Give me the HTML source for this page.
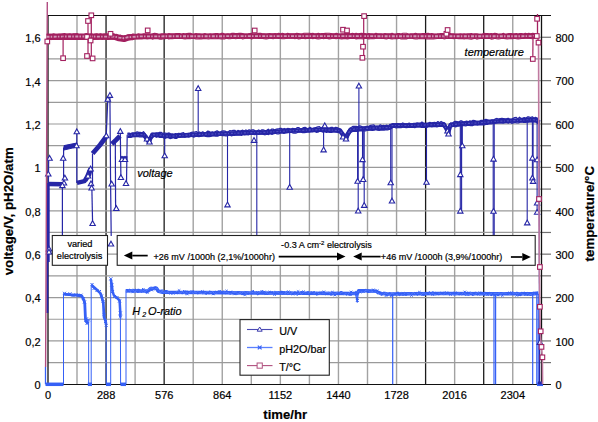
<!DOCTYPE html>
<html><head><meta charset="utf-8"><style>
html,body{margin:0;padding:0;background:#fff;width:598px;height:422px;overflow:hidden}
svg{display:block}
text{font-family:"Liberation Sans",sans-serif;fill:#000;stroke:#000;stroke-width:0.2px}
</style></head><body>
<svg width="598" height="422" viewBox="0 0 598 422">
<rect width="598" height="422" fill="#fff"/>
<g>
<line x1="77.00" y1="15.6" x2="77.00" y2="384.3" stroke="#a2a2a2" stroke-width="1.4"/>
<line x1="106.05" y1="15.6" x2="106.05" y2="384.3" stroke="#1c1c1c" stroke-width="1.3"/>
<line x1="135.10" y1="15.6" x2="135.10" y2="384.3" stroke="#a2a2a2" stroke-width="1.4"/>
<line x1="164.15" y1="15.6" x2="164.15" y2="384.3" stroke="#1c1c1c" stroke-width="1.3"/>
<line x1="193.20" y1="15.6" x2="193.20" y2="384.3" stroke="#a2a2a2" stroke-width="1.4"/>
<line x1="222.25" y1="15.6" x2="222.25" y2="384.3" stroke="#a2a2a2" stroke-width="1.4"/>
<line x1="251.30" y1="15.6" x2="251.30" y2="384.3" stroke="#a2a2a2" stroke-width="1.4"/>
<line x1="280.35" y1="15.6" x2="280.35" y2="384.3" stroke="#a2a2a2" stroke-width="1.4"/>
<line x1="309.40" y1="15.6" x2="309.40" y2="384.3" stroke="#a2a2a2" stroke-width="1.4"/>
<line x1="338.45" y1="15.6" x2="338.45" y2="384.3" stroke="#a2a2a2" stroke-width="1.4"/>
<line x1="367.50" y1="15.6" x2="367.50" y2="384.3" stroke="#a2a2a2" stroke-width="1.4"/>
<line x1="396.55" y1="15.6" x2="396.55" y2="384.3" stroke="#a2a2a2" stroke-width="1.4"/>
<line x1="425.60" y1="15.6" x2="425.60" y2="384.3" stroke="#1c1c1c" stroke-width="1.3"/>
<line x1="454.65" y1="15.6" x2="454.65" y2="384.3" stroke="#a2a2a2" stroke-width="1.4"/>
<line x1="483.70" y1="15.6" x2="483.70" y2="384.3" stroke="#1c1c1c" stroke-width="1.3"/>
<line x1="512.75" y1="15.6" x2="512.75" y2="384.3" stroke="#a2a2a2" stroke-width="1.4"/>
<line x1="48.0" y1="362.61" x2="541.0" y2="362.61" stroke="#9a9a9a" stroke-width="1.2"/>
<line x1="48.0" y1="340.92" x2="541.0" y2="340.92" stroke="#9a9a9a" stroke-width="1.2"/>
<line x1="48.0" y1="319.23" x2="541.0" y2="319.23" stroke="#9a9a9a" stroke-width="1.2"/>
<line x1="48.0" y1="297.54" x2="541.0" y2="297.54" stroke="#9a9a9a" stroke-width="1.2"/>
<line x1="48.0" y1="275.85" x2="541.0" y2="275.85" stroke="#9a9a9a" stroke-width="1.2"/>
<line x1="48.0" y1="254.16" x2="541.0" y2="254.16" stroke="#9a9a9a" stroke-width="1.2"/>
<line x1="48.0" y1="232.47" x2="541.0" y2="232.47" stroke="#9a9a9a" stroke-width="1.2"/>
<line x1="48.0" y1="210.78" x2="541.0" y2="210.78" stroke="#9a9a9a" stroke-width="1.2"/>
<line x1="48.0" y1="189.09" x2="541.0" y2="189.09" stroke="#9a9a9a" stroke-width="1.2"/>
<line x1="48.0" y1="167.40" x2="541.0" y2="167.40" stroke="#9a9a9a" stroke-width="1.2"/>
<line x1="48.0" y1="145.71" x2="541.0" y2="145.71" stroke="#9a9a9a" stroke-width="1.2"/>
<line x1="48.0" y1="124.02" x2="541.0" y2="124.02" stroke="#9a9a9a" stroke-width="1.2"/>
<line x1="48.0" y1="102.33" x2="541.0" y2="102.33" stroke="#9a9a9a" stroke-width="1.2"/>
<line x1="48.0" y1="80.64" x2="541.0" y2="80.64" stroke="#9a9a9a" stroke-width="1.2"/>
<line x1="48.0" y1="58.95" x2="541.0" y2="58.95" stroke="#9a9a9a" stroke-width="1.2"/>
<line x1="48.0" y1="37.26" x2="541.0" y2="37.26" stroke="#9a9a9a" stroke-width="1.2"/>
<line x1="541" y1="362.61" x2="551" y2="362.61" stroke="#707070" stroke-width="1.2"/>
<line x1="541" y1="340.92" x2="551" y2="340.92" stroke="#707070" stroke-width="1.2"/>
<line x1="541" y1="319.23" x2="551" y2="319.23" stroke="#707070" stroke-width="1.2"/>
<line x1="541" y1="297.54" x2="551" y2="297.54" stroke="#707070" stroke-width="1.2"/>
<line x1="541" y1="275.85" x2="551" y2="275.85" stroke="#707070" stroke-width="1.2"/>
<line x1="541" y1="254.16" x2="551" y2="254.16" stroke="#707070" stroke-width="1.2"/>
<line x1="541" y1="232.47" x2="551" y2="232.47" stroke="#707070" stroke-width="1.2"/>
<line x1="541" y1="210.78" x2="551" y2="210.78" stroke="#707070" stroke-width="1.2"/>
<line x1="541" y1="189.09" x2="551" y2="189.09" stroke="#707070" stroke-width="1.2"/>
<line x1="541" y1="167.40" x2="551" y2="167.40" stroke="#707070" stroke-width="1.2"/>
<line x1="541" y1="145.71" x2="551" y2="145.71" stroke="#707070" stroke-width="1.2"/>
<line x1="541" y1="124.02" x2="551" y2="124.02" stroke="#707070" stroke-width="1.2"/>
<line x1="541" y1="102.33" x2="551" y2="102.33" stroke="#707070" stroke-width="1.2"/>
<line x1="541" y1="80.64" x2="551" y2="80.64" stroke="#707070" stroke-width="1.2"/>
<line x1="541" y1="58.95" x2="551" y2="58.95" stroke="#707070" stroke-width="1.2"/>
<line x1="541" y1="37.26" x2="551" y2="37.26" stroke="#707070" stroke-width="1.2"/>
<path d="M48,15.5H551M48,384.5H551" stroke="#111" stroke-width="1.1"/>
<path d="M48,15V385M541.5,15V385" stroke="#111" stroke-width="1.3"/>
</g>
<g>
<polyline points="45.5,367.0 45.5,384.3" fill="none" stroke="#3560f6" stroke-width="1.3" stroke-linejoin="round" />
<polyline points="45.5,384.3 63.5,384.3" fill="none" stroke="#3560f6" stroke-width="3.5" stroke-linejoin="round" />
<polyline points="63.5,384.3 63.5,293.4" fill="none" stroke="#3560f6" stroke-width="1.0" stroke-linejoin="round" />
<polyline points="63.5,294.2 72.0,294.8 80.6,295.5 82.0,296.3 84.1,300.5 84.8,304.0 85.5,319.7 87.0,322.6 88.6,321.5" fill="none" stroke="#3560f6" stroke-width="2.8" stroke-linejoin="round" />
<polyline points="88.6,321.5 88.7,384.3" fill="none" stroke="#3560f6" stroke-width="1.0" stroke-linejoin="round" />
<path d="M63.0,291.8L66.0,294.8M66.0,291.8L63.0,294.8" stroke="#3560f6" stroke-width="1"/>
<path d="M65.5,293.0L68.5,296.0M68.5,293.0L65.5,296.0" stroke="#3560f6" stroke-width="1"/>
<path d="M68.5,292.3L71.5,295.3M71.5,292.3L68.5,295.3" stroke="#3560f6" stroke-width="1"/>
<path d="M71.5,294.1L74.5,297.1M74.5,294.1L71.5,297.1" stroke="#3560f6" stroke-width="1"/>
<path d="M74.5,293.2L77.5,296.2M77.5,293.2L74.5,296.2" stroke="#3560f6" stroke-width="1"/>
<path d="M77.0,294.5L80.0,297.5M80.0,294.5L77.0,297.5" stroke="#3560f6" stroke-width="1"/>
<path d="M79.5,293.7L82.5,296.7M82.5,293.7L79.5,296.7" stroke="#3560f6" stroke-width="1"/>
<path d="M81.8,297.0L84.8,300.0M84.8,297.0L81.8,300.0" stroke="#3560f6" stroke-width="1"/>
<path d="M83.0,300.5L86.0,303.5M86.0,300.5L83.0,303.5" stroke="#3560f6" stroke-width="1"/>
<path d="M84.3,319.0L87.3,322.0M87.3,319.0L84.3,322.0" stroke="#3560f6" stroke-width="1"/>
<path d="M85.5,322.0L88.5,325.0M88.5,322.0L85.5,325.0" stroke="#3560f6" stroke-width="1"/>
<path d="M87.0,318.5L90.0,321.5M90.0,318.5L87.0,321.5" stroke="#3560f6" stroke-width="1"/>
<path d="M85.0,317.3L88.0,320.3M88.0,317.3L85.0,320.3" stroke="#3560f6" stroke-width="1"/>
<polyline points="87.8,384.3 92.0,384.3" fill="none" stroke="#3560f6" stroke-width="3.5" stroke-linejoin="round" />
<polyline points="91.2,384.3 91.2,285.6" fill="none" stroke="#3560f6" stroke-width="1.0" stroke-linejoin="round" />
<polyline points="91.2,285.6 92.0,285.6 96.0,289.0 100.5,293.4 101.9,297.7 103.3,302.7 104.0,316.9 105.4,320.4 106.1,324.0" fill="none" stroke="#3560f6" stroke-width="2.7" stroke-linejoin="round" />
<polyline points="106.1,324.0 106.3,384.3" fill="none" stroke="#3560f6" stroke-width="1.0" stroke-linejoin="round" />
<path d="M90.5,283.0L93.5,286.0M93.5,283.0L90.5,286.0" stroke="#3560f6" stroke-width="1"/>
<path d="M92.5,287.0L95.5,290.0M95.5,287.0L92.5,290.0" stroke="#3560f6" stroke-width="1"/>
<path d="M95.5,289.0L98.5,292.0M98.5,289.0L95.5,292.0" stroke="#3560f6" stroke-width="1"/>
<path d="M98.0,290.0L101.0,293.0M101.0,290.0L98.0,293.0" stroke="#3560f6" stroke-width="1"/>
<path d="M100.0,294.5L103.0,297.5M103.0,294.5L100.0,297.5" stroke="#3560f6" stroke-width="1"/>
<path d="M101.5,300.0L104.5,303.0M104.5,300.0L101.5,303.0" stroke="#3560f6" stroke-width="1"/>
<path d="M102.7,313.0L105.7,316.0M105.7,313.0L102.7,316.0" stroke="#3560f6" stroke-width="1"/>
<path d="M104.0,320.0L107.0,323.0M107.0,320.0L104.0,323.0" stroke="#3560f6" stroke-width="1"/>
<path d="M104.7,324.0L107.7,327.0M107.7,324.0L104.7,327.0" stroke="#3560f6" stroke-width="1"/>
<polyline points="106.0,384.3 111.0,384.3" fill="none" stroke="#3560f6" stroke-width="3.5" stroke-linejoin="round" />
<polyline points="110.7,384.3 110.7,279.2" fill="none" stroke="#3560f6" stroke-width="1.0" stroke-linejoin="round" />
<polyline points="110.7,279.2 111.8,284.2 112.5,291.3 114.0,295.6 117.5,298.4 119.6,300.5 120.3,312.6 120.3,316.9" fill="none" stroke="#3560f6" stroke-width="2.5" stroke-linejoin="round" />
<polyline points="120.4,316.9 120.6,384.3" fill="none" stroke="#3560f6" stroke-width="1.0" stroke-linejoin="round" />
<path d="M109.4,277.3L112.4,280.3M112.4,277.3L109.4,280.3" stroke="#3560f6" stroke-width="1"/>
<path d="M110.3,283.5L113.3,286.5M113.3,283.5L110.3,286.5" stroke="#3560f6" stroke-width="1"/>
<path d="M111.1,290.0L114.1,293.0M114.1,290.0L111.1,293.0" stroke="#3560f6" stroke-width="1"/>
<path d="M113.0,295.0L116.0,298.0M116.0,295.0L113.0,298.0" stroke="#3560f6" stroke-width="1"/>
<path d="M115.5,296.0L118.5,299.0M118.5,296.0L115.5,299.0" stroke="#3560f6" stroke-width="1"/>
<path d="M118.0,299.5L121.0,302.5M121.0,299.5L118.0,302.5" stroke="#3560f6" stroke-width="1"/>
<path d="M118.8,311.5L121.8,314.5M121.8,311.5L118.8,314.5" stroke="#3560f6" stroke-width="1"/>
<path d="M118.9,315.5L121.9,318.5M121.9,315.5L118.9,318.5" stroke="#3560f6" stroke-width="1"/>
<polyline points="120.5,384.3 126.0,384.3" fill="none" stroke="#3560f6" stroke-width="3.5" stroke-linejoin="round" />
<polyline points="126.0,384.3 126.0,290.6" fill="none" stroke="#3560f6" stroke-width="1.0" stroke-linejoin="round" />
<polyline points="125.8,290.8 140.0,291.0 148.0,291.0 150.0,288.8 156.5,288.3 158.5,291.3 162.0,292.2 200.0,292.5 250.0,293.0 300.0,293.2 355.0,293.5 357.0,294.0 358.6,290.8 366.0,290.8 376.0,291.3 381.0,293.6 392.0,294.0 440.0,293.5 494.0,293.8 532.0,293.8 538.4,293.0" fill="none" stroke="#3560f6" stroke-width="3.4" stroke-linejoin="round" />
<polyline points="125.8,290.1 127.0,289.5 128.2,291.4 129.4,289.2 130.6,291.0 131.8,290.4 133.0,289.2 134.2,290.9 135.4,289.2 136.6,290.7 137.8,289.3 139.0,289.4 140.2,290.7 141.4,292.2 142.6,289.6 143.8,289.9 145.0,291.5 146.2,292.7 147.4,291.3 148.6,289.9 149.8,290.8 151.0,287.0 152.2,290.0 153.4,287.7 154.6,287.1 155.8,286.9 157.0,288.3 158.2,292.1 159.4,290.3 160.6,292.2 161.8,292.7 163.0,291.7 164.2,292.4 165.4,290.6 166.6,290.6 167.8,291.1 169.0,292.9 170.2,292.0 171.4,291.6 172.6,292.6 173.8,292.1 175.0,291.5 176.2,293.4 177.4,293.1 178.6,291.4 179.8,292.6 181.0,292.4 182.2,293.8 183.4,293.2 184.6,291.6 185.8,294.2 187.0,290.9 188.2,292.1 189.4,293.4 190.6,291.1 191.8,292.4 193.0,290.7 194.2,293.1 195.4,293.5 196.6,292.8 197.8,293.9 199.0,291.8 200.2,293.2 201.4,292.9 202.6,292.8 203.8,292.4 205.0,293.8 206.2,294.3 207.4,292.5 208.6,293.2 209.8,290.9 211.0,293.4 212.2,293.2 213.4,294.5 214.6,293.9 215.8,291.8 217.0,292.2 218.2,293.3 219.4,290.9 220.6,292.6 221.8,291.5 223.0,291.3 224.2,291.1 225.4,293.8 226.6,291.4 227.8,291.8 229.0,292.4 230.2,294.2 231.4,291.2 232.6,292.6 233.8,293.0 235.0,294.3 236.2,294.1 237.4,294.3 238.6,292.0 239.8,292.6 241.0,292.4 242.2,294.4 243.4,294.7 244.6,291.6 245.8,291.7 247.0,292.0 248.2,292.0 249.4,292.9 250.6,293.3 251.8,292.1 253.0,291.1 254.2,292.7 255.4,292.5 256.6,293.3 257.8,294.8 259.0,293.8 260.2,293.1 261.4,293.5 262.6,293.7 263.8,291.4 265.0,294.6 266.2,294.1 267.4,294.5 268.6,294.2 269.8,292.7 271.0,292.7 272.2,291.6 273.4,293.6 274.6,291.4 275.8,291.5 277.0,292.0 278.2,291.8 279.4,292.5 280.6,291.4 281.8,291.2 283.0,291.8 284.2,291.6 285.4,292.6 286.6,291.3 287.8,294.6 289.0,293.6 290.2,291.8 291.4,292.2 292.6,292.6 293.8,292.7 295.0,291.7 296.2,294.5 297.4,295.1 298.6,293.1 299.8,293.1 301.0,291.6 302.2,291.7 303.4,292.6 304.6,292.3 305.8,294.5 307.0,292.0 308.2,291.4 309.4,295.0 310.6,293.4 311.8,291.9 313.0,293.4 314.2,291.5 315.4,293.4 316.6,295.1 317.8,294.7 319.0,294.0 320.2,292.4 321.4,292.8 322.6,292.1 323.8,294.4 325.0,293.5 326.2,294.4 327.4,292.7 328.6,292.3 329.8,294.5 331.0,295.2 332.2,294.7 333.4,294.5 334.6,294.6 335.8,294.3 337.0,292.4 338.2,293.5 339.4,292.9 340.6,291.6 341.8,291.6 343.0,292.6 344.2,292.5 345.4,294.2 346.6,295.2 347.8,293.3 349.0,295.1 350.2,295.3 351.4,295.2 352.6,293.0 353.8,292.4 355.0,292.5 356.2,292.6 357.4,292.1 358.6,291.3 359.8,292.3 361.0,292.1 362.2,290.7 363.4,291.4 364.6,291.9 365.8,289.2 367.0,291.5 368.2,292.5 369.4,292.0 370.6,292.0 371.8,291.0 373.0,289.9 374.2,292.3 375.4,290.6 376.6,292.7 377.8,293.9 379.0,292.3 380.2,292.9 381.4,295.3 382.6,294.5 383.8,292.4 385.0,292.3 386.2,292.5 387.4,295.4 388.6,295.0 389.8,292.6 391.0,295.2 392.2,295.8 393.4,294.6 394.6,293.4 395.8,294.1 397.0,292.5 398.2,292.1 399.4,295.7 400.6,294.5 401.8,294.0 403.0,295.5 404.2,293.6 405.4,295.3 406.6,295.1 407.8,292.7 409.0,292.9 410.2,293.0 411.4,292.8 412.6,294.1 413.8,292.9 415.0,293.5 416.2,292.3 417.4,295.3 418.6,293.2 419.8,293.6 421.0,294.0 422.2,295.2 423.4,293.4 424.6,295.2 425.8,293.7 427.0,293.8 428.2,293.7 429.4,291.8 430.6,293.4 431.8,292.4 433.0,291.7 434.2,294.7 435.4,292.3 436.6,293.4 437.8,294.4 439.0,293.7 440.2,292.8 441.4,293.6 442.6,293.7 443.8,294.6 445.0,292.0 446.2,293.8 447.4,292.6 448.6,292.7 449.8,294.6 451.0,293.6 452.2,293.8 453.4,294.6 454.6,295.1 455.8,293.4 457.0,294.0 458.2,293.6 459.4,293.7 460.6,294.3 461.8,293.4 463.0,293.8 464.2,293.6 465.4,295.3 466.6,294.4 467.8,295.1 469.0,295.3 470.2,292.8 471.4,293.9 472.6,295.4 473.8,295.0 475.0,292.3 476.2,292.3 477.4,293.5 478.6,292.1 479.8,292.7 481.0,292.1 482.2,294.4 483.4,294.8 484.6,295.3 485.8,292.4 487.0,294.6 488.2,294.4 489.4,292.4 490.6,295.2 491.8,295.6 493.0,292.7 494.2,295.5 495.4,293.4 496.6,293.8 497.8,295.7 499.0,295.1 500.2,292.5 501.4,293.5 502.6,293.9 503.8,293.2 505.0,292.6 506.2,293.1 507.4,294.6 508.6,292.0 509.8,294.0 511.0,293.6 512.2,292.0 513.4,293.2 514.6,294.3 515.8,293.8 517.0,292.1 518.2,295.6 519.4,294.9 520.6,295.6 521.8,292.3 523.0,292.9 524.2,292.1 525.4,294.9 526.6,292.9 527.8,292.4 529.0,293.5 530.2,295.4 531.4,295.0 532.6,292.8 533.8,292.2 535.0,295.0 536.2,293.5 537.4,293.9" fill="none" stroke="#3560f6" stroke-width="1.1" stroke-linejoin="round" />
<polyline points="125.8,290.0 127.3,292.2 128.8,289.7 130.3,291.5 131.8,289.6 133.3,290.1 134.8,292.4 136.3,290.1 137.8,291.4 139.3,290.9 140.8,290.9 142.3,291.0 143.8,290.1 145.3,292.0 146.8,289.8 148.3,289.9 149.8,287.6 151.3,288.0 152.8,288.3 154.3,289.7 155.8,288.0 157.3,288.3 158.8,290.7 160.3,293.2 161.8,290.8 163.3,292.6 164.8,291.9 166.3,292.7 167.8,291.8 169.3,292.8 170.8,292.3 172.3,292.7 173.8,293.5 175.3,292.5 176.8,291.2 178.3,291.0 179.8,293.7 181.3,292.3 182.8,291.4 184.3,293.7 185.8,292.6 187.3,293.1 188.8,293.6 190.3,291.8 191.8,292.0 193.3,293.6 194.8,291.4 196.3,293.3 197.8,291.3 199.3,293.1 200.8,293.1 202.3,293.9 203.8,293.6 205.3,292.6 206.8,291.7 208.3,291.5 209.8,292.7 211.3,292.6 212.8,291.3 214.3,293.9 215.8,292.7 217.3,293.3 218.8,291.8 220.3,291.9 221.8,291.3 223.3,292.3 224.8,292.0 226.3,292.5 227.8,292.4 229.3,293.8 230.8,294.0 232.3,291.8 233.8,292.5 235.3,291.9 236.8,293.4 238.3,294.3 239.8,292.0 241.3,293.7 242.8,292.3 244.3,291.5 245.8,293.8 247.3,292.5 248.8,292.0 250.3,292.8 251.8,292.2 253.3,292.7 254.8,292.9 256.3,292.8 257.8,293.3 259.3,292.4 260.8,291.8 262.3,291.8 263.8,291.9 265.3,293.1 266.8,292.6 268.3,294.0 269.8,293.1 271.3,293.7 272.8,294.5 274.3,291.8 275.8,291.7 277.3,292.0 278.8,292.8 280.3,293.3 281.8,293.9 283.3,292.7 284.8,294.5 286.3,291.7 287.8,294.2 289.3,292.3 290.8,294.3 292.3,291.8 293.8,294.6 295.3,294.0 296.8,294.7 298.3,293.4 299.8,292.2 301.3,294.6 302.8,293.0 304.3,292.0 305.8,293.5 307.3,293.2 308.8,293.2 310.3,292.2 311.8,292.1 313.3,293.5 314.8,293.1 316.3,292.2 317.8,293.1 319.3,294.0 320.8,294.0 322.3,293.2 323.8,293.0 325.3,292.9 326.8,292.5 328.3,292.4 329.8,293.2 331.3,292.2 332.8,294.1 334.3,294.0 335.8,293.7 337.3,292.0 338.8,293.0 340.3,293.2 341.8,292.2 343.3,294.8 344.8,294.2 346.3,293.5 347.8,294.1 349.3,292.6 350.8,292.7 352.3,293.6 353.8,294.2 355.3,294.0 356.8,292.5 358.3,291.7 359.8,292.0 361.3,291.5 362.8,292.1 364.3,292.2 365.8,290.0 367.3,290.3 368.8,291.1 370.3,292.4 371.8,290.7 373.3,292.5 374.8,292.3 376.3,291.5 377.8,292.5 379.3,294.2 380.8,294.4 382.3,293.0 383.8,294.7 385.3,292.8 386.8,293.4 388.3,295.2 389.8,295.0 391.3,293.4 392.8,293.4 394.3,294.3 395.8,295.0 397.3,294.5 398.8,295.2 400.3,294.6 401.8,294.9 403.3,294.2 404.8,293.5 406.3,293.6 407.8,293.8 409.3,293.9 410.8,294.8 412.3,293.1 413.8,292.5 415.3,294.5 416.8,293.1 418.3,293.5 419.8,292.6 421.3,294.7 422.8,293.0 424.3,293.0 425.8,294.6 427.3,293.6 428.8,292.9 430.3,294.8 431.8,293.3 433.3,293.2 434.8,295.0 436.3,294.4 437.8,294.3 439.3,292.8 440.8,294.4 442.3,293.8 443.8,294.5 445.3,293.1 446.8,294.4 448.3,294.4 449.8,293.2 451.3,294.0 452.8,294.4 454.3,295.1 455.8,294.8 457.3,294.5 458.8,292.5 460.3,293.9 461.8,294.2 463.3,292.4 464.8,293.5 466.3,294.8 467.8,294.9 469.3,294.9 470.8,292.4 472.3,294.0 473.8,294.8 475.3,294.2 476.8,293.2 478.3,292.3 479.8,295.0 481.3,294.8 482.8,294.2 484.3,293.3 485.8,294.7 487.3,294.7 488.8,294.4 490.3,294.1 491.8,293.2 493.3,293.2 494.8,293.4 496.3,293.3 497.8,293.9 499.3,292.6 500.8,294.5 502.3,293.3 503.8,292.8 505.3,293.1 506.8,293.5 508.3,293.6 509.8,294.6 511.3,292.6 512.8,293.0 514.3,293.2 515.8,292.8 517.3,294.5 518.8,292.6 520.3,292.5 521.8,294.0 523.3,294.5 524.8,294.8 526.3,294.0 527.8,293.3 529.3,294.9 530.8,294.5 532.3,293.7 533.8,293.8 535.3,294.7 536.8,294.7 538.3,294.3" fill="none" stroke="#5a80ff" stroke-width="0.9" stroke-linejoin="round" />
<path d="M126.8,290.1L129.2,292.5M129.2,290.1L126.8,292.5" stroke="#3560f6" stroke-width="1"/>
<path d="M131.5,290.8L133.9,293.2M133.9,290.8L131.5,293.2" stroke="#3560f6" stroke-width="1"/>
<path d="M136.9,290.6L139.3,293.0M139.3,290.6L136.9,293.0" stroke="#3560f6" stroke-width="1"/>
<path d="M142.1,288.1L144.5,290.5M144.5,288.1L142.1,290.5" stroke="#3560f6" stroke-width="1"/>
<path d="M146.0,291.4L148.4,293.8M148.4,291.4L146.0,293.8" stroke="#3560f6" stroke-width="1"/>
<path d="M150.5,288.9L152.9,291.3M152.9,288.9L150.5,291.3" stroke="#3560f6" stroke-width="1"/>
<path d="M153.3,287.1L155.7,289.5M155.7,287.1L153.3,289.5" stroke="#3560f6" stroke-width="1"/>
<path d="M156.5,289.1L158.9,291.5M158.9,289.1L156.5,291.5" stroke="#3560f6" stroke-width="1"/>
<path d="M160.8,289.2L163.2,291.6M163.2,289.2L160.8,291.6" stroke="#3560f6" stroke-width="1"/>
<path d="M163.9,290.2L166.3,292.6M166.3,290.2L163.9,292.6" stroke="#3560f6" stroke-width="1"/>
<path d="M169.2,292.0L171.6,294.4M171.6,292.0L169.2,294.4" stroke="#3560f6" stroke-width="1"/>
<path d="M172.1,292.2L174.5,294.6M174.5,292.2L172.1,294.6" stroke="#3560f6" stroke-width="1"/>
<path d="M175.1,291.5L177.5,293.9M177.5,291.5L175.1,293.9" stroke="#3560f6" stroke-width="1"/>
<path d="M177.9,289.3L180.3,291.7M180.3,289.3L177.9,291.7" stroke="#3560f6" stroke-width="1"/>
<path d="M183.1,290.1L185.5,292.5M185.5,290.1L183.1,292.5" stroke="#3560f6" stroke-width="1"/>
<path d="M186.2,292.9L188.6,295.3M188.6,292.9L186.2,295.3" stroke="#3560f6" stroke-width="1"/>
<path d="M191.3,290.5L193.7,292.9M193.7,290.5L191.3,292.9" stroke="#3560f6" stroke-width="1"/>
<path d="M196.7,291.4L199.1,293.8M199.1,291.4L196.7,293.8" stroke="#3560f6" stroke-width="1"/>
<path d="M201.2,290.3L203.6,292.7M203.6,290.3L201.2,292.7" stroke="#3560f6" stroke-width="1"/>
<path d="M206.6,292.1L209.0,294.5M209.0,292.1L206.6,294.5" stroke="#3560f6" stroke-width="1"/>
<path d="M212.0,292.8L214.4,295.2M214.4,292.8L212.0,295.2" stroke="#3560f6" stroke-width="1"/>
<path d="M215.4,291.0L217.8,293.4M217.8,291.0L215.4,293.4" stroke="#3560f6" stroke-width="1"/>
<path d="M218.4,290.2L220.8,292.6M220.8,290.2L218.4,292.6" stroke="#3560f6" stroke-width="1"/>
<path d="M221.0,290.8L223.4,293.2M223.4,290.8L221.0,293.2" stroke="#3560f6" stroke-width="1"/>
<path d="M225.4,289.8L227.8,292.2M227.8,289.8L225.4,292.2" stroke="#3560f6" stroke-width="1"/>
<path d="M229.9,291.0L232.3,293.4M232.3,291.0L229.9,293.4" stroke="#3560f6" stroke-width="1"/>
<path d="M233.3,292.8L235.7,295.2M235.7,292.8L233.3,295.2" stroke="#3560f6" stroke-width="1"/>
<path d="M237.3,291.0L239.7,293.4M239.7,291.0L237.3,293.4" stroke="#3560f6" stroke-width="1"/>
<path d="M241.2,292.5L243.6,294.9M243.6,292.5L241.2,294.9" stroke="#3560f6" stroke-width="1"/>
<path d="M243.9,293.5L246.3,295.9M246.3,293.5L243.9,295.9" stroke="#3560f6" stroke-width="1"/>
<path d="M246.4,292.7L248.8,295.1M248.8,292.7L246.4,295.1" stroke="#3560f6" stroke-width="1"/>
<path d="M251.5,290.1L253.9,292.5M253.9,290.1L251.5,292.5" stroke="#3560f6" stroke-width="1"/>
<path d="M256.3,291.3L258.7,293.7M258.7,291.3L256.3,293.7" stroke="#3560f6" stroke-width="1"/>
<path d="M260.6,290.1L263.0,292.5M263.0,290.1L260.6,292.5" stroke="#3560f6" stroke-width="1"/>
<path d="M263.2,290.7L265.6,293.1M265.6,290.7L263.2,293.1" stroke="#3560f6" stroke-width="1"/>
<path d="M268.6,290.8L271.0,293.2M271.0,290.8L268.6,293.2" stroke="#3560f6" stroke-width="1"/>
<path d="M273.4,293.4L275.8,295.8M275.8,293.4L273.4,295.8" stroke="#3560f6" stroke-width="1"/>
<path d="M278.7,291.4L281.1,293.8M281.1,291.4L278.7,293.8" stroke="#3560f6" stroke-width="1"/>
<path d="M282.2,292.0L284.6,294.4M284.6,292.0L282.2,294.4" stroke="#3560f6" stroke-width="1"/>
<path d="M287.1,290.5L289.5,292.9M289.5,290.5L287.1,292.9" stroke="#3560f6" stroke-width="1"/>
<path d="M291.8,293.0L294.2,295.4M294.2,293.0L291.8,295.4" stroke="#3560f6" stroke-width="1"/>
<path d="M296.9,290.3L299.3,292.7M299.3,290.3L296.9,292.7" stroke="#3560f6" stroke-width="1"/>
<path d="M302.2,290.5L304.6,292.9M304.6,290.5L302.2,292.9" stroke="#3560f6" stroke-width="1"/>
<path d="M305.8,292.4L308.2,294.8M308.2,292.4L305.8,294.8" stroke="#3560f6" stroke-width="1"/>
<path d="M311.0,291.5L313.4,293.9M313.4,291.5L311.0,293.9" stroke="#3560f6" stroke-width="1"/>
<path d="M316.3,292.3L318.7,294.7M318.7,292.3L316.3,294.7" stroke="#3560f6" stroke-width="1"/>
<path d="M319.7,291.5L322.1,293.9M322.1,291.5L319.7,293.9" stroke="#3560f6" stroke-width="1"/>
<path d="M322.7,290.6L325.1,293.0M325.1,290.6L322.7,293.0" stroke="#3560f6" stroke-width="1"/>
<path d="M325.7,292.8L328.1,295.2M328.1,292.8L325.7,295.2" stroke="#3560f6" stroke-width="1"/>
<path d="M331.2,291.0L333.6,293.4M333.6,291.0L331.2,293.4" stroke="#3560f6" stroke-width="1"/>
<path d="M333.8,293.9L336.2,296.3M336.2,293.9L333.8,296.3" stroke="#3560f6" stroke-width="1"/>
<path d="M337.9,291.9L340.3,294.3M340.3,291.9L337.9,294.3" stroke="#3560f6" stroke-width="1"/>
<path d="M341.1,292.6L343.5,295.0M343.5,292.6L341.1,295.0" stroke="#3560f6" stroke-width="1"/>
<path d="M346.1,292.1L348.5,294.5M348.5,292.1L346.1,294.5" stroke="#3560f6" stroke-width="1"/>
<path d="M349.9,290.7L352.3,293.1M352.3,290.7L349.9,293.1" stroke="#3560f6" stroke-width="1"/>
<path d="M355.1,291.0L357.5,293.4M357.5,291.0L355.1,293.4" stroke="#3560f6" stroke-width="1"/>
<path d="M359.1,290.8L361.5,293.2M361.5,290.8L359.1,293.2" stroke="#3560f6" stroke-width="1"/>
<path d="M362.0,290.4L364.4,292.8M364.4,290.4L362.0,292.8" stroke="#3560f6" stroke-width="1"/>
<path d="M367.4,290.2L369.8,292.6M369.8,290.2L367.4,292.6" stroke="#3560f6" stroke-width="1"/>
<path d="M372.2,288.6L374.6,291.0M374.6,288.6L372.2,291.0" stroke="#3560f6" stroke-width="1"/>
<path d="M376.0,289.4L378.4,291.8M378.4,289.4L376.0,291.8" stroke="#3560f6" stroke-width="1"/>
<path d="M381.1,291.7L383.5,294.1M383.5,291.7L381.1,294.1" stroke="#3560f6" stroke-width="1"/>
<path d="M384.9,294.4L387.3,296.8M387.3,294.4L384.9,296.8" stroke="#3560f6" stroke-width="1"/>
<path d="M390.0,294.5L392.4,296.9M392.4,294.5L390.0,296.9" stroke="#3560f6" stroke-width="1"/>
<path d="M393.8,292.7L396.2,295.1M396.2,292.7L393.8,295.1" stroke="#3560f6" stroke-width="1"/>
<path d="M398.5,292.6L400.9,295.0M400.9,292.6L398.5,295.0" stroke="#3560f6" stroke-width="1"/>
<path d="M401.9,292.3L404.3,294.7M404.3,292.3L401.9,294.7" stroke="#3560f6" stroke-width="1"/>
<path d="M404.8,292.2L407.2,294.6M407.2,292.2L404.8,294.6" stroke="#3560f6" stroke-width="1"/>
<path d="M410.3,294.3L412.7,296.7M412.7,294.3L410.3,296.7" stroke="#3560f6" stroke-width="1"/>
<path d="M414.7,292.5L417.1,294.9M417.1,292.5L414.7,294.9" stroke="#3560f6" stroke-width="1"/>
<path d="M418.2,291.0L420.6,293.4M420.6,291.0L418.2,293.4" stroke="#3560f6" stroke-width="1"/>
<path d="M421.5,293.5L423.9,295.9M423.9,293.5L421.5,295.9" stroke="#3560f6" stroke-width="1"/>
<path d="M426.6,291.9L429.0,294.3M429.0,291.9L426.6,294.3" stroke="#3560f6" stroke-width="1"/>
<path d="M431.5,293.4L433.9,295.8M433.9,293.4L431.5,295.8" stroke="#3560f6" stroke-width="1"/>
<path d="M436.1,292.9L438.5,295.3M438.5,292.9L436.1,295.3" stroke="#3560f6" stroke-width="1"/>
<path d="M440.8,291.8L443.2,294.2M443.2,291.8L440.8,294.2" stroke="#3560f6" stroke-width="1"/>
<path d="M445.5,291.5L447.9,293.9M447.9,291.5L445.5,293.9" stroke="#3560f6" stroke-width="1"/>
<path d="M449.4,293.3L451.8,295.7M451.8,293.3L449.4,295.7" stroke="#3560f6" stroke-width="1"/>
<path d="M454.0,291.6L456.4,294.0M456.4,291.6L454.0,294.0" stroke="#3560f6" stroke-width="1"/>
<path d="M459.3,293.0L461.7,295.4M461.7,293.0L459.3,295.4" stroke="#3560f6" stroke-width="1"/>
<path d="M463.6,290.7L466.0,293.1M466.0,290.7L463.6,293.1" stroke="#3560f6" stroke-width="1"/>
<path d="M467.7,291.6L470.1,294.0M470.1,291.6L467.7,294.0" stroke="#3560f6" stroke-width="1"/>
<path d="M472.2,292.4L474.6,294.8M474.6,292.4L472.2,294.8" stroke="#3560f6" stroke-width="1"/>
<path d="M477.2,293.0L479.6,295.4M479.6,293.0L477.2,295.4" stroke="#3560f6" stroke-width="1"/>
<path d="M482.1,292.0L484.5,294.4M484.5,292.0L482.1,294.4" stroke="#3560f6" stroke-width="1"/>
<path d="M486.5,293.4L488.9,295.8M488.9,293.4L486.5,295.8" stroke="#3560f6" stroke-width="1"/>
<path d="M491.5,292.1L493.9,294.5M493.9,292.1L491.5,294.5" stroke="#3560f6" stroke-width="1"/>
<path d="M496.5,293.9L498.9,296.3M498.9,293.9L496.5,296.3" stroke="#3560f6" stroke-width="1"/>
<path d="M501.1,294.3L503.5,296.7M503.5,294.3L501.1,296.7" stroke="#3560f6" stroke-width="1"/>
<path d="M506.4,292.7L508.8,295.1M508.8,292.7L506.4,295.1" stroke="#3560f6" stroke-width="1"/>
<path d="M510.5,291.4L512.9,293.8M512.9,291.4L510.5,293.8" stroke="#3560f6" stroke-width="1"/>
<path d="M515.5,294.2L517.9,296.6M517.9,294.2L515.5,296.6" stroke="#3560f6" stroke-width="1"/>
<path d="M519.5,293.3L521.9,295.7M521.9,293.3L519.5,295.7" stroke="#3560f6" stroke-width="1"/>
<path d="M524.1,293.4L526.5,295.8M526.5,293.4L524.1,295.8" stroke="#3560f6" stroke-width="1"/>
<path d="M527.1,293.6L529.5,296.0M529.5,293.6L527.1,296.0" stroke="#3560f6" stroke-width="1"/>
<path d="M531.4,293.1L533.8,295.5M533.8,293.1L531.4,295.5" stroke="#3560f6" stroke-width="1"/>
<path d="M535.1,292.5L537.5,294.9M537.5,292.5L535.1,294.9" stroke="#3560f6" stroke-width="1"/>
<polyline points="355.5,293.5 357.3,302.0 358.2,292.0" fill="none" stroke="#3560f6" stroke-width="1.3" stroke-linejoin="round" />
<path d="M355.8,299.0L358.8,302.0M358.8,299.0L355.8,302.0" stroke="#3560f6" stroke-width="1"/>
<polyline points="392.7,294.0 392.7,384.3" fill="none" stroke="#3560f6" stroke-width="1.2" stroke-linejoin="round" />
<polyline points="494.0,294.0 494.0,384.3" fill="none" stroke="#3560f6" stroke-width="1.2" stroke-linejoin="round" />
<polyline points="495.6,294.0 495.6,384.3" fill="none" stroke="#3560f6" stroke-width="1.2" stroke-linejoin="round" />
<polyline points="532.7,294.0 532.7,384.3" fill="none" stroke="#3560f6" stroke-width="1.2" stroke-linejoin="round" />
<polyline points="536.8,294.0 536.8,384.3" fill="none" stroke="#3560f6" stroke-width="1.2" stroke-linejoin="round" />
<polyline points="538.2,294.0 538.2,384.3" fill="none" stroke="#3560f6" stroke-width="1.2" stroke-linejoin="round" />
<polyline points="537.0,384.3 543.0,384.3" fill="none" stroke="#3560f6" stroke-width="3.5" stroke-linejoin="round" />
</g>
<g>
<polyline points="48.6,160.0 48.4,183.0" fill="none" stroke="#2626a6" stroke-width="1.3" stroke-linejoin="round" />
<polyline points="48.1,183.0 48.1,262.0" fill="none" stroke="#2626a6" stroke-width="3.2" stroke-linejoin="round" />
<polyline points="47.4,262.0 47.4,313.0" fill="none" stroke="#2626a6" stroke-width="2.0" stroke-linejoin="round" />
<polyline points="48.6,184.0 62.5,184.3" fill="none" stroke="#2626a6" stroke-width="4.6" stroke-linejoin="round" />
<polyline points="62.4,185.0 62.4,236.0" fill="none" stroke="#2626a6" stroke-width="1.2" stroke-linejoin="round" />
<polyline points="63.6,184.5 63.6,147.5" fill="none" stroke="#2626a6" stroke-width="1.2" stroke-linejoin="round" />
<path d="M64,145.6L76.8,143L76.8,147L64,150Z" fill="#2626a6" stroke="#2626a6" stroke-width="1"/>
<polyline points="76.8,131.7 76.8,183.0" fill="none" stroke="#2626a6" stroke-width="1.2" stroke-linejoin="round" />
<polyline points="77.0,182.8 84.5,181.2 87.0,177.0 89.0,172.0 90.6,168.6" fill="none" stroke="#2626a6" stroke-width="4.4" stroke-linejoin="round" />
<polyline points="86.0,181.0 90.0,175.0 91.5,169.0" fill="none" stroke="#2626a6" stroke-width="2.5" stroke-linejoin="round" />
<polyline points="91.8,185.0 92.6,223.5" fill="none" stroke="#2626a6" stroke-width="1.2" stroke-linejoin="round" />
<polyline points="92.5,153.5 92.5,186.0" fill="none" stroke="#2626a6" stroke-width="1.2" stroke-linejoin="round" />
<polyline points="92.6,153.5 100.0,145.0 106.0,137.0" fill="none" stroke="#2626a6" stroke-width="4.8" stroke-linejoin="round" />
<polyline points="106.2,136.5 107.8,99.3 109.9,95.4 110.6,184.0 111.2,236.0" fill="none" stroke="#2626a6" stroke-width="1.2" stroke-linejoin="round" />
<polyline points="111.8,144.0 116.0,140.0 120.0,136.0" fill="none" stroke="#2626a6" stroke-width="4.6" stroke-linejoin="round" />
<polyline points="115.3,141.0 115.6,208.5" fill="none" stroke="#2626a6" stroke-width="1.2" stroke-linejoin="round" />
<polyline points="120.3,131.4 120.9,177.5" fill="none" stroke="#2626a6" stroke-width="1.2" stroke-linejoin="round" />
<rect x="120.8" y="156.2" width="6.6" height="4.2" fill="#2626a6"/>
<polyline points="127.2,134.8 126.5,183.5" fill="none" stroke="#2626a6" stroke-width="1.2" stroke-linejoin="round" />
<polyline points="127.5,135.4 140.0,134.5 144.0,134.6 146.5,138.5 148.5,141.0 150.5,138.0 152.5,134.6 160.0,135.2 165.0,136.0 172.0,136.1 185.0,135.2 200.0,134.4 230.0,133.5 255.0,132.5 260.0,132.6 290.0,130.8 320.0,129.6 335.0,130.3 340.0,130.5 343.0,135.0 345.5,137.5 348.0,134.0 350.5,129.8 355.0,129.0 375.0,128.0 390.0,127.5 392.5,125.5 410.0,125.5 440.0,124.5 444.0,124.5 446.5,129.0 448.5,131.0 450.5,125.0 460.0,123.8 480.0,122.8 495.0,121.4 515.0,120.6 530.0,119.8 536.0,120.0 539.3,122.5" fill="none" stroke="#2626a6" stroke-width="4.4" stroke-linejoin="round" />
<polyline points="127.5,133.1 129.1,133.2 130.7,133.7 132.3,132.8 133.9,132.8 135.5,132.8 137.1,131.9 138.7,132.4 140.3,132.5 141.9,132.9 143.5,131.7 145.1,133.8 146.7,135.8 148.3,139.1 149.9,137.0 151.5,133.3 153.1,133.3 154.7,133.4 156.3,133.0 157.9,133.0 159.5,132.3 161.1,132.3 162.7,133.5 164.3,132.9 165.9,133.3 167.5,133.4 169.1,133.0 170.7,133.8 172.3,133.8 173.9,134.4 175.5,133.7 177.1,133.8 178.7,133.4 180.3,133.6 181.9,133.1 183.5,132.7 185.1,133.9 186.7,133.8 188.3,133.4 189.9,133.1 191.5,132.3 193.1,132.1 194.7,132.1 196.3,131.6 197.9,132.8 199.5,132.0 201.1,132.8 202.7,131.9 204.3,132.9 205.9,132.6 207.5,131.1 209.1,131.4 210.7,132.6 212.3,131.8 213.9,132.6 215.5,131.6 217.1,130.9 218.7,131.9 220.3,132.1 221.9,131.1 223.5,130.8 225.1,131.1 226.7,132.2 228.3,131.8 229.9,130.6 231.5,130.8 233.1,130.5 234.7,130.3 236.3,131.6 237.9,130.4 239.5,131.0 241.1,130.8 242.7,130.2 244.3,131.1 245.9,130.0 247.5,130.9 249.1,129.8 250.7,130.3 252.3,129.9 253.9,129.9 255.5,131.2 257.1,130.9 258.7,130.0 260.3,131.1 261.9,129.8 263.5,130.0 265.1,130.7 266.7,130.3 268.3,129.2 269.9,130.7 271.5,129.2 273.1,129.2 274.7,130.0 276.3,129.1 277.9,129.0 279.5,128.5 281.1,128.4 282.7,129.2 284.3,128.5 285.9,129.0 287.5,128.5 289.1,128.6 290.7,129.4 292.3,128.5 293.9,128.6 295.5,129.0 297.1,127.7 298.7,127.6 300.3,128.9 301.9,128.7 303.5,127.6 305.1,127.4 306.7,128.4 308.3,128.7 309.9,127.3 311.5,128.6 313.1,128.4 314.7,127.8 316.3,127.4 317.9,126.8 319.5,126.6 321.1,128.3 322.7,127.1 324.3,128.0 325.9,127.2 327.5,128.3 329.1,128.0 330.7,127.5 332.3,127.4 333.9,128.4 335.5,127.3 337.1,127.7 338.7,128.4 340.3,129.4 341.9,131.4 343.5,132.9 345.1,135.7 346.7,133.1 348.3,130.4 349.9,128.2 351.5,127.3 353.1,126.3 354.7,126.3 356.3,126.5 357.9,126.8 359.5,125.9 361.1,126.2 362.7,127.1 364.3,127.2 365.9,126.5 367.5,126.5 369.1,126.2 370.7,125.4 372.3,125.1 373.9,125.0 375.5,126.5 377.1,126.1 378.7,126.5 380.3,124.8 381.9,125.8 383.5,125.5 385.1,125.9 386.7,125.1 388.3,126.3 389.9,124.5 391.5,124.2 393.1,123.7 394.7,124.0 396.3,123.7 397.9,123.7 399.5,123.8 401.1,124.0 402.7,123.0 404.3,123.6 405.9,124.0 407.5,124.0 409.1,123.2 410.7,123.8 412.3,123.9 413.9,123.3 415.5,123.3 417.1,122.9 418.7,123.2 420.3,123.2 421.9,122.1 423.5,123.1 425.1,123.7 426.7,123.4 428.3,123.1 429.9,122.4 431.5,123.0 433.1,122.7 434.7,122.4 436.3,123.0 437.9,121.6 439.5,122.8 441.1,121.5 442.7,122.5 444.3,122.8 445.9,125.2 447.5,128.2 449.1,127.0 450.7,123.0 452.3,123.3 453.9,121.9 455.5,121.3 457.1,121.6 458.7,122.1 460.3,121.0 461.9,120.9 463.5,122.2 465.1,121.6 466.7,121.2 468.3,121.9 469.9,120.8 471.5,121.3 473.1,120.4 474.7,120.7 476.3,121.3 477.9,121.5 479.5,121.3 481.1,120.3 482.7,120.5 484.3,119.9 485.9,119.4 487.5,119.9 489.1,120.4 490.7,120.2 492.3,119.8 493.9,120.1 495.5,118.8 497.1,118.5 498.7,119.0 500.3,118.6 501.9,118.4 503.5,118.7 505.1,119.0 506.7,118.7 508.3,118.3 509.9,119.2 511.5,119.4 513.1,118.4 514.7,117.6 516.3,117.5 517.9,118.9 519.5,117.3 521.1,118.5 522.7,118.1 524.3,117.6 525.9,118.3 527.5,116.9 529.1,117.0 530.7,117.5 532.3,116.8 533.9,118.3 535.5,117.3 537.1,118.0 538.7,119.0" fill="none" stroke="#2626a6" stroke-width="1.3" stroke-linejoin="round" />
<polyline points="127.5,137.4 129.2,137.5 130.9,137.4 132.6,136.6 134.3,136.3 136.0,136.6 137.7,136.4 139.4,136.9 141.1,136.8 142.8,136.7 144.5,137.4 146.2,140.2 147.9,141.8 149.6,141.3 151.3,138.2 153.0,137.1 154.7,136.2 156.4,137.3 158.1,136.5 159.8,137.4 161.5,137.2 163.2,137.6 164.9,138.4 166.6,137.4 168.3,137.5 170.0,138.6 171.7,138.1 173.4,137.5 175.1,138.5 176.8,138.3 178.5,137.2 180.2,137.4 181.9,137.0 183.6,137.1 185.3,137.3 187.0,136.7 188.7,137.2 190.4,136.4 192.1,136.4 193.8,137.1 195.5,136.5 197.2,136.5 198.9,136.6 200.6,136.4 202.3,136.2 204.0,135.7 205.7,136.5 207.4,136.7 209.1,136.7 210.8,136.3 212.5,135.9 214.2,135.8 215.9,136.2 217.6,136.1 219.3,135.4 221.0,135.5 222.7,135.6 224.4,135.7 226.1,136.0 227.8,135.6 229.5,134.9 231.2,135.8 232.9,135.3 234.6,135.3 236.3,134.9 238.0,135.1 239.7,135.0 241.4,135.4 243.1,134.5 244.8,135.0 246.5,134.5 248.2,135.0 249.9,134.1 251.6,134.4 253.3,134.4 255.0,134.7 256.7,134.0 258.4,134.5 260.1,134.2 261.8,134.2 263.5,134.4 265.2,134.8 266.9,134.2 268.6,134.6 270.3,133.6 272.0,134.4 273.7,133.6 275.4,133.3 277.1,133.9 278.8,134.0 280.5,132.8 282.2,133.0 283.9,133.5 285.6,132.9 287.3,132.7 289.0,132.3 290.7,132.2 292.4,132.8 294.1,133.2 295.8,133.2 297.5,132.5 299.2,131.9 300.9,132.2 302.6,132.6 304.3,132.6 306.0,132.3 307.7,131.8 309.4,132.1 311.1,131.9 312.8,132.0 314.5,131.5 316.2,132.3 317.9,132.2 319.6,131.2 321.3,131.4 323.0,132.2 324.7,131.6 326.4,132.4 328.1,132.0 329.8,132.3 331.5,132.4 333.2,131.9 334.9,132.0 336.6,132.1 338.3,132.7 340.0,132.7 341.7,134.6 343.4,137.9 345.1,139.0 346.8,137.4 348.5,135.1 350.2,132.9 351.9,131.6 353.6,131.4 355.3,131.5 357.0,131.5 358.7,131.1 360.4,130.6 362.1,130.8 363.8,131.0 365.5,130.8 367.2,130.5 368.9,130.1 370.6,130.1 372.3,130.4 374.0,130.1 375.7,129.4 377.4,130.2 379.1,130.3 380.8,130.2 382.5,130.2 384.2,130.2 385.9,129.7 387.6,129.9 389.3,129.4 391.0,128.2 392.7,127.3 394.4,127.3 396.1,128.0 397.8,127.7 399.5,127.5 401.2,127.6 402.9,127.0 404.6,127.5 406.3,127.7 408.0,127.4 409.7,127.2 411.4,127.3 413.1,127.2 414.8,127.6 416.5,126.9 418.2,126.7 419.9,126.9 421.6,127.3 423.3,127.4 425.0,127.2 426.7,127.5 428.4,126.7 430.1,126.3 431.8,126.8 433.5,126.6 435.2,126.3 436.9,126.8 438.6,126.4 440.3,126.2 442.0,126.3 443.7,127.0 445.4,128.4 447.1,131.4 448.8,131.8 450.5,126.6 452.2,126.7 453.9,126.2 455.6,126.9 457.3,126.1 459.0,126.2 460.7,125.4 462.4,125.6 464.1,125.7 465.8,125.9 467.5,125.1 469.2,125.3 470.9,125.7 472.6,125.6 474.3,124.8 476.0,125.0 477.7,125.2 479.4,124.7 481.1,124.9 482.8,124.7 484.5,124.9 486.2,124.3 487.9,124.3 489.6,123.7 491.3,124.0 493.0,123.4 494.7,123.4 496.4,123.2 498.1,123.0 499.8,122.8 501.5,122.8 503.2,123.1 504.9,122.7 506.6,122.4 508.3,123.2 510.0,122.5 511.7,123.3 513.4,122.8 515.1,122.5 516.8,123.0 518.5,122.9 520.2,122.1 521.9,121.8 523.6,122.3 525.3,122.5 527.0,122.1 528.7,122.2 530.4,121.7 532.1,122.0 533.8,121.6 535.5,121.9 537.2,122.8 538.9,124.1" fill="none" stroke="#2626a6" stroke-width="1.2" stroke-linejoin="round" />
<polyline points="127.5,135.4 140.0,134.5 144.0,134.6 146.5,138.5 148.5,141.0 150.5,138.0 152.5,134.6 160.0,135.2 165.0,136.0 172.0,136.1 185.0,135.2 200.0,134.4 230.0,133.5 255.0,132.5 260.0,132.6 290.0,130.8 320.0,129.6 335.0,130.3 340.0,130.5 343.0,135.0 345.5,137.5 348.0,134.0 350.5,129.8 355.0,129.0 375.0,128.0 390.0,127.5 392.5,125.5 410.0,125.5 440.0,124.5 444.0,124.5 446.5,129.0 448.5,131.0 450.5,125.0 460.0,123.8 480.0,122.8 495.0,121.4 515.0,120.6 530.0,119.8 536.0,120.0 539.3,122.5" fill="none" stroke="#5050c0" stroke-width="1.2" stroke-linejoin="round" stroke-dasharray="2 1.5 1 2"/>
<polyline points="146.0,137.0 147.5,142.0 150.0,143.0 151.5,137.0" fill="none" stroke="#2626a6" stroke-width="2.2" stroke-linejoin="round" />
<polyline points="343.0,135.0 345.0,139.0 347.0,140.0 348.5,135.0" fill="none" stroke="#2626a6" stroke-width="2.2" stroke-linejoin="round" />
<polyline points="446.0,129.0 447.5,133.0 449.0,134.0 450.0,129.0" fill="none" stroke="#2626a6" stroke-width="2.2" stroke-linejoin="round" />
<polyline points="164.7,136.0 164.7,155.8" fill="none" stroke="#2626a6" stroke-width="1.1" stroke-linejoin="round" />
<polyline points="227.5,133.6 227.5,204.9" fill="none" stroke="#2626a6" stroke-width="1.1" stroke-linejoin="round" />
<polyline points="256.8,132.5 256.8,236.0" fill="none" stroke="#2626a6" stroke-width="1.1" stroke-linejoin="round" />
<polyline points="289.7,130.8 289.7,187.2" fill="none" stroke="#2626a6" stroke-width="1.1" stroke-linejoin="round" />
<polyline points="323.6,129.8 323.6,149.9" fill="none" stroke="#2626a6" stroke-width="1.1" stroke-linejoin="round" />
<polyline points="357.6,128.9 357.6,181.2" fill="none" stroke="#2626a6" stroke-width="1.1" stroke-linejoin="round" />
<polyline points="358.2,128.8 358.2,211.0" fill="none" stroke="#2626a6" stroke-width="1.1" stroke-linejoin="round" />
<polyline points="362.5,128.6 362.5,159.6" fill="none" stroke="#2626a6" stroke-width="1.1" stroke-linejoin="round" />
<polyline points="363.2,128.6 363.2,179.5" fill="none" stroke="#2626a6" stroke-width="1.1" stroke-linejoin="round" />
<polyline points="364.2,128.5 364.2,205.4" fill="none" stroke="#2626a6" stroke-width="1.1" stroke-linejoin="round" />
<polyline points="390.7,126.9 390.7,182.8" fill="none" stroke="#2626a6" stroke-width="1.1" stroke-linejoin="round" />
<polyline points="392.0,125.9 392.0,201.0" fill="none" stroke="#2626a6" stroke-width="1.1" stroke-linejoin="round" />
<polyline points="426.5,125.0 426.5,182.2" fill="none" stroke="#2626a6" stroke-width="1.1" stroke-linejoin="round" />
<polyline points="460.3,123.8 460.3,211.1" fill="none" stroke="#2626a6" stroke-width="1.1" stroke-linejoin="round" />
<polyline points="462.3,123.7 462.3,145.7" fill="none" stroke="#2626a6" stroke-width="1.1" stroke-linejoin="round" />
<polyline points="461.0,123.8 461.0,175.7" fill="none" stroke="#2626a6" stroke-width="1.1" stroke-linejoin="round" />
<polyline points="493.2,121.6 493.2,236.0" fill="none" stroke="#2626a6" stroke-width="1.1" stroke-linejoin="round" />
<polyline points="494.2,121.5 494.2,236.0" fill="none" stroke="#2626a6" stroke-width="1.1" stroke-linejoin="round" />
<polyline points="461.6,123.7 461.6,211.1" fill="none" stroke="#2626a6" stroke-width="1.1" stroke-linejoin="round" />
<polyline points="527.2,119.9 527.2,222.9" fill="none" stroke="#2626a6" stroke-width="1.1" stroke-linejoin="round" />
<polyline points="532.4,119.9 532.4,178.0" fill="none" stroke="#2626a6" stroke-width="1.1" stroke-linejoin="round" />
<polyline points="533.1,119.9 533.1,181.4" fill="none" stroke="#2626a6" stroke-width="1.1" stroke-linejoin="round" />
<polyline points="537.1,120.8 537.1,212.3" fill="none" stroke="#2626a6" stroke-width="1.1" stroke-linejoin="round" />
<polyline points="198.2,134.5 198.2,88.5" fill="none" stroke="#2626a6" stroke-width="1.1" stroke-linejoin="round" />
<polyline points="358.9,128.8 358.9,86.0" fill="none" stroke="#2626a6" stroke-width="1.1" stroke-linejoin="round" />
<polyline points="539.2,121.0 539.5,384.0" fill="none" stroke="#2626a6" stroke-width="1.2" stroke-linejoin="round" />
<path d="M49.6,155.4L52.3,160.2L46.9,160.2Z" fill="#fff" stroke="#2626a6" stroke-width="1.1"/>
<path d="M48.3,171.2L51.0,176.0L45.6,176.0Z" fill="#fff" stroke="#2626a6" stroke-width="1.1"/>
<path d="M49.0,246.2L51.7,251.0L46.3,251.0Z" fill="#fff" stroke="#2626a6" stroke-width="1.1"/>
<path d="M49.0,249.2L51.7,254.0L46.3,254.0Z" fill="#fff" stroke="#2626a6" stroke-width="1.1"/>
<path d="M63.2,155.4L65.9,160.2L60.5,160.2Z" fill="#fff" stroke="#2626a6" stroke-width="1.1"/>
<path d="M64.9,175.2L67.6,180.0L62.2,180.0Z" fill="#fff" stroke="#2626a6" stroke-width="1.1"/>
<path d="M64.0,180.2L66.7,185.0L61.3,185.0Z" fill="#fff" stroke="#2626a6" stroke-width="1.1"/>
<path d="M62.4,182.8L65.1,187.6L59.7,187.6Z" fill="#fff" stroke="#2626a6" stroke-width="1.1"/>
<path d="M76.5,143.0L79.2,147.8L73.8,147.8Z" fill="#fff" stroke="#2626a6" stroke-width="1.1"/>
<path d="M76.8,128.9L79.5,133.7L74.1,133.7Z" fill="#fff" stroke="#2626a6" stroke-width="1.1"/>
<path d="M90.6,166.2L93.3,171.0L87.9,171.0Z" fill="#fff" stroke="#2626a6" stroke-width="1.1"/>
<path d="M88.0,173.2L90.7,178.0L85.3,178.0Z" fill="#fff" stroke="#2626a6" stroke-width="1.1"/>
<path d="M91.0,180.9L93.7,185.7L88.3,185.7Z" fill="#fff" stroke="#2626a6" stroke-width="1.1"/>
<path d="M91.6,185.2L94.3,190.0L88.9,190.0Z" fill="#fff" stroke="#2626a6" stroke-width="1.1"/>
<path d="M92.6,220.7L95.3,225.5L89.9,225.5Z" fill="#fff" stroke="#2626a6" stroke-width="1.1"/>
<path d="M106.3,132.9L109.0,137.7L103.6,137.7Z" fill="#fff" stroke="#2626a6" stroke-width="1.1"/>
<path d="M107.8,96.5L110.5,101.3L105.1,101.3Z" fill="#fff" stroke="#2626a6" stroke-width="1.1"/>
<path d="M109.9,92.6L112.6,97.4L107.2,97.4Z" fill="#fff" stroke="#2626a6" stroke-width="1.1"/>
<path d="M111.7,181.2L114.4,186.0L109.0,186.0Z" fill="#fff" stroke="#2626a6" stroke-width="1.1"/>
<path d="M111.0,241.2L113.7,246.0L108.3,246.0Z" fill="#fff" stroke="#2626a6" stroke-width="1.1"/>
<path d="M116.3,205.7L119.0,210.5L113.6,210.5Z" fill="#fff" stroke="#2626a6" stroke-width="1.1"/>
<path d="M120.3,128.6L123.0,133.4L117.6,133.4Z" fill="#fff" stroke="#2626a6" stroke-width="1.1"/>
<path d="M120.9,174.7L123.6,179.5L118.2,179.5Z" fill="#fff" stroke="#2626a6" stroke-width="1.1"/>
<path d="M122.0,156.7L124.7,161.5L119.3,161.5Z" fill="#fff" stroke="#2626a6" stroke-width="1.1"/>
<path d="M125.0,156.7L127.7,161.5L122.3,161.5Z" fill="#fff" stroke="#2626a6" stroke-width="1.1"/>
<path d="M126.0,180.7L128.7,185.5L123.3,185.5Z" fill="#fff" stroke="#2626a6" stroke-width="1.1"/>
<path d="M147.0,136.2L149.7,141.0L144.3,141.0Z" fill="#fff" stroke="#2626a6" stroke-width="1.1"/>
<path d="M149.5,139.2L152.2,144.0L146.8,144.0Z" fill="#fff" stroke="#2626a6" stroke-width="1.1"/>
<path d="M164.7,153.0L167.4,157.8L162.0,157.8Z" fill="#fff" stroke="#2626a6" stroke-width="1.1"/>
<path d="M198.2,85.7L200.9,90.5L195.5,90.5Z" fill="#fff" stroke="#2626a6" stroke-width="1.1"/>
<path d="M227.5,202.1L230.2,206.9L224.8,206.9Z" fill="#fff" stroke="#2626a6" stroke-width="1.1"/>
<path d="M254.0,137.6L256.7,142.4L251.3,142.4Z" fill="#fff" stroke="#2626a6" stroke-width="1.1"/>
<path d="M289.7,184.4L292.4,189.2L287.0,189.2Z" fill="#fff" stroke="#2626a6" stroke-width="1.1"/>
<path d="M324.8,122.9L327.5,127.7L322.1,127.7Z" fill="#fff" stroke="#2626a6" stroke-width="1.1"/>
<path d="M323.6,147.1L326.3,151.9L320.9,151.9Z" fill="#fff" stroke="#2626a6" stroke-width="1.1"/>
<path d="M343.0,134.2L345.7,139.0L340.3,139.0Z" fill="#fff" stroke="#2626a6" stroke-width="1.1"/>
<path d="M346.0,136.2L348.7,141.0L343.3,141.0Z" fill="#fff" stroke="#2626a6" stroke-width="1.1"/>
<path d="M358.9,83.2L361.6,88.0L356.2,88.0Z" fill="#fff" stroke="#2626a6" stroke-width="1.1"/>
<path d="M357.6,178.4L360.3,183.2L354.9,183.2Z" fill="#fff" stroke="#2626a6" stroke-width="1.1"/>
<path d="M358.2,208.2L360.9,213.0L355.5,213.0Z" fill="#fff" stroke="#2626a6" stroke-width="1.1"/>
<path d="M362.5,156.8L365.2,161.6L359.8,161.6Z" fill="#fff" stroke="#2626a6" stroke-width="1.1"/>
<path d="M363.2,176.7L365.9,181.5L360.5,181.5Z" fill="#fff" stroke="#2626a6" stroke-width="1.1"/>
<path d="M364.2,202.6L366.9,207.4L361.5,207.4Z" fill="#fff" stroke="#2626a6" stroke-width="1.1"/>
<path d="M390.7,180.0L393.4,184.8L388.0,184.8Z" fill="#fff" stroke="#2626a6" stroke-width="1.1"/>
<path d="M392.0,198.2L394.7,203.0L389.3,203.0Z" fill="#fff" stroke="#2626a6" stroke-width="1.1"/>
<path d="M426.5,179.4L429.2,184.2L423.8,184.2Z" fill="#fff" stroke="#2626a6" stroke-width="1.1"/>
<path d="M447.5,128.2L450.2,133.0L444.8,133.0Z" fill="#fff" stroke="#2626a6" stroke-width="1.1"/>
<path d="M448.5,131.2L451.2,136.0L445.8,136.0Z" fill="#fff" stroke="#2626a6" stroke-width="1.1"/>
<path d="M462.3,142.9L465.0,147.7L459.6,147.7Z" fill="#fff" stroke="#2626a6" stroke-width="1.1"/>
<path d="M460.3,171.8L463.0,176.6L457.6,176.6Z" fill="#fff" stroke="#2626a6" stroke-width="1.1"/>
<path d="M460.3,208.3L463.0,213.1L457.6,213.1Z" fill="#fff" stroke="#2626a6" stroke-width="1.1"/>
<path d="M493.5,156.3L496.2,161.1L490.8,161.1Z" fill="#fff" stroke="#2626a6" stroke-width="1.1"/>
<path d="M493.5,208.5L496.2,213.3L490.8,213.3Z" fill="#fff" stroke="#2626a6" stroke-width="1.1"/>
<path d="M527.2,220.1L529.9,224.9L524.5,224.9Z" fill="#fff" stroke="#2626a6" stroke-width="1.1"/>
<path d="M532.4,155.3L535.1,160.1L529.7,160.1Z" fill="#fff" stroke="#2626a6" stroke-width="1.1"/>
<path d="M532.4,175.2L535.1,180.0L529.7,180.0Z" fill="#fff" stroke="#2626a6" stroke-width="1.1"/>
<path d="M533.1,178.6L535.8,183.4L530.4,183.4Z" fill="#fff" stroke="#2626a6" stroke-width="1.1"/>
<path d="M537.1,157.0L539.8,161.8L534.4,161.8Z" fill="#fff" stroke="#2626a6" stroke-width="1.1"/>
<path d="M537.1,200.2L539.8,205.0L534.4,205.0Z" fill="#fff" stroke="#2626a6" stroke-width="1.1"/>
<path d="M537.1,209.5L539.8,214.3L534.4,214.3Z" fill="#fff" stroke="#2626a6" stroke-width="1.1"/>
<path d="M539.9,339.6L542.6,344.4L537.2,344.4Z" fill="#fff" stroke="#2626a6" stroke-width="1.1"/>
<polyline points="538.0,383.0 543.0,383.0" fill="none" stroke="#2626a6" stroke-width="3" stroke-linejoin="round" />
</g>
<g>
<polyline points="45.6,367.0 46.8,110.0 47.3,2.0" fill="none" stroke="#b04c80" stroke-width="1.4" stroke-linejoin="round" />
<polyline points="46.5,36.8 60.0,36.6 80.0,36.5 100.0,36.6 114.0,36.6 119.0,37.6 124.0,38.2 128.0,37.2 140.0,36.4 200.0,36.2 300.0,36.1 400.0,36.2 500.0,36.3 536.5,36.1" fill="none" stroke="#a3205f" stroke-width="5.1" stroke-linejoin="round" />
<polyline points="47.0,36.8 62.0,36.9 75.0,36.6 88.0,36.8 100.0,36.6 114.0,36.6 119.0,38.2 124.0,39.0 128.0,37.6 134.0,36.8" fill="none" stroke="#a3205f" stroke-width="6.2" stroke-linejoin="round" />
<polyline points="46.5,34.0 48.3,34.4 50.1,34.4 51.9,34.2 53.7,33.9 55.5,34.4 57.3,34.4 59.1,34.1 60.9,34.1 62.7,33.8 64.5,33.6 66.3,34.0 68.1,34.1 69.9,33.7 71.7,34.3 73.5,33.8 75.3,33.8 77.1,33.6 78.9,34.5 80.7,34.2 82.5,34.4 84.3,34.1 86.1,33.6 87.9,33.9 89.7,34.0 91.5,33.7 93.3,34.5 95.1,34.0 96.9,33.8 98.7,34.4 100.5,33.8 102.3,34.5 104.1,34.1 105.9,34.1 107.7,34.0 109.5,34.1 111.3,33.8 113.1,33.7 114.9,34.6 116.7,34.4 118.5,35.3 120.3,35.0 122.1,35.9 123.9,36.0 125.7,35.5 127.5,35.1 129.3,34.7 131.1,34.7 132.9,34.0 134.7,34.2 136.5,34.4 138.3,33.7 140.1,34.3 141.9,34.2 143.7,33.8 145.5,33.8 147.3,33.8 149.1,33.8 150.9,34.3 152.7,33.8 154.5,33.4 156.3,33.5 158.1,34.0 159.9,34.3 161.7,33.8 163.5,33.8 165.3,33.9 167.1,34.0 168.9,33.6 170.7,33.9 172.5,33.8 174.3,33.9 176.1,33.5 177.9,33.5 179.7,33.6 181.5,34.1 183.3,33.6 185.1,33.8 186.9,33.6 188.7,33.4 190.5,33.3 192.3,34.0 194.1,34.0 195.9,33.6 197.7,33.9 199.5,33.9 201.3,34.1 203.1,34.1 204.9,33.6 206.7,34.1 208.5,34.1 210.3,33.8 212.1,34.0 213.9,33.7 215.7,33.6 217.5,33.5 219.3,34.0 221.1,33.4 222.9,33.3 224.7,34.0 226.5,33.9 228.3,33.7 230.1,34.0 231.9,33.3 233.7,33.4 235.5,33.5 237.3,33.6 239.1,33.4 240.9,33.3 242.7,33.5 244.5,34.0 246.3,34.1 248.1,33.9 249.9,33.6 251.7,33.4 253.5,34.1 255.3,33.7 257.1,33.8 258.9,33.2 260.7,33.4 262.5,33.9 264.3,33.9 266.1,34.0 267.9,33.7 269.7,33.6 271.5,33.7 273.3,33.9 275.1,33.5 276.9,33.7 278.7,33.4 280.5,33.9 282.3,33.2 284.1,33.8 285.9,34.0 287.7,33.2 289.5,33.7 291.3,33.7 293.1,33.9 294.9,33.7 296.7,33.4 298.5,33.5 300.3,34.0 302.1,34.0 303.9,33.3 305.7,33.2 307.5,33.2 309.3,33.2 311.1,33.6 312.9,33.3 314.7,33.9 316.5,33.8 318.3,33.3 320.1,33.7 321.9,33.5 323.7,33.6 325.5,33.4 327.3,33.3 329.1,33.3 330.9,33.5 332.7,33.8 334.5,33.7 336.3,33.2 338.1,33.8 339.9,34.0 341.7,33.9 343.5,33.9 345.3,33.2 347.1,33.6 348.9,33.3 350.7,33.9 352.5,33.4 354.3,33.8 356.1,33.4 357.9,33.8 359.7,33.5 361.5,33.2 363.3,33.6 365.1,33.5 366.9,34.0 368.7,33.5 370.5,33.7 372.3,33.7 374.1,34.1 375.9,33.3 377.7,33.8 379.5,33.7 381.3,33.9 383.1,34.1 384.9,33.5 386.7,33.9 388.5,33.7 390.3,33.7 392.1,33.3 393.9,34.0 395.7,34.1 397.5,33.6 399.3,33.5 401.1,34.1 402.9,33.3 404.7,33.3 406.5,33.3 408.3,34.0 410.1,33.9 411.9,33.7 413.7,33.8 415.5,33.3 417.3,33.8 419.1,33.7 420.9,33.7 422.7,33.6 424.5,33.6 426.3,33.5 428.1,33.3 429.9,33.7 431.7,33.5 433.5,33.9 435.3,34.0 437.1,33.9 438.9,33.7 440.7,33.5 442.5,33.6 444.3,33.7 446.1,33.9 447.9,34.2 449.7,33.4 451.5,33.7 453.3,33.7 455.1,34.0 456.9,34.1 458.7,34.0 460.5,33.9 462.3,34.0 464.1,33.9 465.9,34.1 467.7,33.9 469.5,33.9 471.3,33.5 473.1,34.1 474.9,33.7 476.7,33.9 478.5,34.1 480.3,34.2 482.1,34.2 483.9,33.3 485.7,33.6 487.5,33.6 489.3,33.7 491.1,33.5 492.9,33.8 494.7,33.4 496.5,33.6 498.3,34.2 500.1,34.0 501.9,33.8 503.7,33.4 505.5,34.2 507.3,33.9 509.1,33.5 510.9,33.6 512.7,33.9 514.5,33.9 516.3,33.5 518.1,34.1 519.9,33.5 521.7,33.5 523.5,34.0 525.3,33.3 527.1,33.8 528.9,33.4 530.7,33.7 532.5,33.4 534.3,33.5 536.1,34.0" fill="none" stroke="#a3205f" stroke-width="1.1" stroke-linejoin="round" />
<polyline points="46.5,39.6 48.3,38.8 50.1,38.7 51.9,39.6 53.7,38.8 55.5,38.7 57.3,39.2 59.1,38.9 60.9,39.3 62.7,38.7 64.5,39.4 66.3,38.8 68.1,39.1 69.9,39.3 71.7,39.1 73.5,39.3 75.3,39.1 77.1,38.5 78.9,39.2 80.7,39.0 82.5,38.7 84.3,38.6 86.1,39.2 87.9,39.0 89.7,39.3 91.5,39.2 93.3,39.4 95.1,39.0 96.9,39.2 98.7,39.1 100.5,38.8 102.3,39.4 104.1,38.8 105.9,39.3 107.7,39.4 109.5,39.1 111.3,38.7 113.1,39.3 114.9,39.3 116.7,39.3 118.5,39.5 120.3,40.2 122.1,40.0 123.9,41.0 125.7,40.2 127.5,39.7 129.3,39.4 131.1,39.5 132.9,39.6 134.7,39.0 136.5,38.9 138.3,39.0 140.1,38.6 141.9,38.9 143.7,38.8 145.5,38.7 147.3,38.9 149.1,38.8 150.9,38.4 152.7,39.2 154.5,38.6 156.3,38.7 158.1,38.7 159.9,39.1 161.7,39.1 163.5,38.7 165.3,38.6 167.1,38.3 168.9,39.1 170.7,38.4 172.5,38.7 174.3,38.5 176.1,38.5 177.9,38.5 179.7,38.4 181.5,38.2 183.3,38.7 185.1,38.9 186.9,38.8 188.7,38.4 190.5,38.8 192.3,38.2 194.1,38.5 195.9,38.9 197.7,39.0 199.5,38.6 201.3,38.9 203.1,38.6 204.9,38.6 206.7,38.7 208.5,39.0 210.3,38.8 212.1,38.6 213.9,38.8 215.7,38.7 217.5,38.5 219.3,38.8 221.1,38.9 222.9,38.7 224.7,39.0 226.5,38.1 228.3,38.6 230.1,38.7 231.9,38.4 233.7,38.3 235.5,38.7 237.3,38.5 239.1,38.4 240.9,38.1 242.7,39.0 244.5,38.4 246.3,38.2 248.1,38.3 249.9,38.3 251.7,38.9 253.5,38.3 255.3,38.3 257.1,38.2 258.9,38.5 260.7,38.3 262.5,38.4 264.3,38.7 266.1,38.9 267.9,38.8 269.7,38.1 271.5,38.4 273.3,38.8 275.1,38.1 276.9,38.3 278.7,38.5 280.5,38.4 282.3,38.7 284.1,38.7 285.9,38.5 287.7,38.3 289.5,38.3 291.3,38.3 293.1,38.1 294.9,38.7 296.7,38.2 298.5,38.9 300.3,38.6 302.1,38.1 303.9,38.5 305.7,38.6 307.5,38.1 309.3,38.5 311.1,38.1 312.9,38.8 314.7,38.1 316.5,38.6 318.3,39.0 320.1,38.8 321.9,38.3 323.7,38.6 325.5,38.2 327.3,38.4 329.1,38.9 330.9,38.8 332.7,38.1 334.5,38.4 336.3,38.7 338.1,38.2 339.9,38.8 341.7,38.9 343.5,38.6 345.3,38.4 347.1,38.9 348.9,38.6 350.7,38.3 352.5,38.4 354.3,38.2 356.1,38.9 357.9,38.6 359.7,38.7 361.5,38.8 363.3,39.0 365.1,38.3 366.9,38.5 368.7,38.9 370.5,38.8 372.3,38.5 374.1,38.7 375.9,38.3 377.7,38.3 379.5,38.2 381.3,38.5 383.1,38.3 384.9,38.6 386.7,39.0 388.5,38.3 390.3,38.6 392.1,38.9 393.9,38.7 395.7,38.6 397.5,38.8 399.3,38.2 401.1,39.0 402.9,38.8 404.7,38.9 406.5,38.9 408.3,38.2 410.1,38.2 411.9,38.3 413.7,38.6 415.5,39.0 417.3,39.0 419.1,38.5 420.9,38.7 422.7,38.8 424.5,38.5 426.3,39.0 428.1,39.0 429.9,38.8 431.7,39.0 433.5,38.9 435.3,38.8 437.1,38.5 438.9,38.4 440.7,38.4 442.5,38.2 444.3,39.0 446.1,38.5 447.9,38.2 449.7,38.5 451.5,38.3 453.3,38.6 455.1,38.5 456.9,38.4 458.7,38.6 460.5,38.6 462.3,38.5 464.1,38.9 465.9,38.5 467.7,38.7 469.5,39.0 471.3,39.1 473.1,38.6 474.9,38.3 476.7,39.1 478.5,38.7 480.3,38.4 482.1,38.3 483.9,38.4 485.7,38.5 487.5,38.4 489.3,38.3 491.1,39.1 492.9,39.0 494.7,38.3 496.5,38.7 498.3,39.0 500.1,38.7 501.9,38.3 503.7,38.5 505.5,38.6 507.3,39.0 509.1,38.7 510.9,38.6 512.7,38.7 514.5,38.2 516.3,38.8 518.1,38.9 519.9,38.7 521.7,38.5 523.5,38.4 525.3,38.1 527.1,38.2 528.9,38.2 530.7,38.5 532.5,38.8 534.3,38.3 536.1,38.5" fill="none" stroke="#a3205f" stroke-width="1.1" stroke-linejoin="round" />
<polyline points="46.5,36.8 60.0,36.6 80.0,36.5 100.0,36.6 114.0,36.6 119.0,37.6 124.0,38.2 128.0,37.2 140.0,36.4 200.0,36.2 300.0,36.1 400.0,36.2 500.0,36.3 536.5,36.1" fill="none" stroke="#d099b8" stroke-width="1.9" stroke-linejoin="round" stroke-dasharray="3 1.2 1.5 1.5"/>
<polyline points="63.1,36.5 63.1,58.2" fill="none" stroke="#a3205f" stroke-width="1.2" stroke-linejoin="round" />
<polyline points="88.0,21.0 88.0,56.0 87.0,56.0" fill="none" stroke="#a3205f" stroke-width="1.2" stroke-linejoin="round" />
<polyline points="91.3,15.3 91.3,58.4 92.6,58.4" fill="none" stroke="#a3205f" stroke-width="1.2" stroke-linejoin="round" />
<polyline points="363.7,16.1 363.7,58.0" fill="none" stroke="#a3205f" stroke-width="1.2" stroke-linejoin="round" />
<polyline points="537.5,14.0 537.5,36.0 538.5,42.6" fill="none" stroke="#a3205f" stroke-width="1.3" stroke-linejoin="round" />
<polyline points="538.5,42.6 538.6,60.0 539.0,200.0 539.3,267.0 540.2,330.0 541.3,347.0 542.4,357.3 542.6,384.0" fill="none" stroke="#c07aa0" stroke-width="1.6" stroke-linejoin="round" />
<polyline points="533.0,36.0 532.8,59.0" fill="none" stroke="#a3205f" stroke-width="1.2" stroke-linejoin="round" />
<rect x="45.0" y="39.2" width="4.6" height="4.6" fill="#fff" stroke="#a3205f" stroke-width="1.1"/>
<rect x="60.8" y="55.9" width="4.6" height="4.6" fill="#fff" stroke="#a3205f" stroke-width="1.1"/>
<rect x="89.0" y="13.0" width="4.6" height="4.6" fill="#fff" stroke="#a3205f" stroke-width="1.1"/>
<rect x="85.7" y="18.7" width="4.6" height="4.6" fill="#fff" stroke="#a3205f" stroke-width="1.1"/>
<rect x="84.7" y="34.6" width="4.6" height="4.6" fill="#fff" stroke="#a3205f" stroke-width="1.1"/>
<rect x="88.3" y="38.2" width="4.6" height="4.6" fill="#fff" stroke="#a3205f" stroke-width="1.1"/>
<rect x="84.7" y="53.7" width="4.6" height="4.6" fill="#fff" stroke="#a3205f" stroke-width="1.1"/>
<rect x="90.3" y="56.1" width="4.6" height="4.6" fill="#fff" stroke="#a3205f" stroke-width="1.1"/>
<rect x="108.2" y="31.5" width="4.6" height="4.6" fill="#fff" stroke="#a3205f" stroke-width="1.1"/>
<rect x="145.4" y="28.1" width="4.6" height="4.6" fill="#fff" stroke="#a3205f" stroke-width="1.1"/>
<rect x="252.4" y="28.2" width="4.6" height="4.6" fill="#fff" stroke="#a3205f" stroke-width="1.1"/>
<rect x="340.7" y="27.4" width="4.6" height="4.6" fill="#fff" stroke="#a3205f" stroke-width="1.1"/>
<rect x="344.7" y="28.2" width="4.6" height="4.6" fill="#fff" stroke="#a3205f" stroke-width="1.1"/>
<rect x="361.8" y="13.8" width="4.6" height="4.6" fill="#fff" stroke="#a3205f" stroke-width="1.1"/>
<rect x="360.7" y="44.4" width="4.6" height="4.6" fill="#fff" stroke="#a3205f" stroke-width="1.1"/>
<rect x="360.1" y="55.5" width="4.6" height="4.6" fill="#fff" stroke="#a3205f" stroke-width="1.1"/>
<rect x="444.1" y="31.5" width="4.6" height="4.6" fill="#fff" stroke="#a3205f" stroke-width="1.1"/>
<rect x="445.3" y="27.7" width="4.6" height="4.6" fill="#fff" stroke="#a3205f" stroke-width="1.1"/>
<rect x="534.8" y="16.5" width="4.6" height="4.6" fill="#fff" stroke="#a3205f" stroke-width="1.1"/>
<rect x="534.5" y="33.7" width="4.6" height="4.6" fill="#fff" stroke="#a3205f" stroke-width="1.1"/>
<rect x="536.2" y="40.3" width="4.6" height="4.6" fill="#fff" stroke="#a3205f" stroke-width="1.1"/>
<rect x="530.5" y="56.7" width="4.6" height="4.6" fill="#fff" stroke="#a3205f" stroke-width="1.1"/>
<rect x="536.7" y="196.7" width="4.6" height="4.6" fill="#fff" stroke="#a3205f" stroke-width="1.1"/>
<rect x="537.6" y="264.7" width="4.6" height="4.6" fill="#fff" stroke="#a3205f" stroke-width="1.1"/>
<rect x="537.6" y="304.5" width="4.6" height="4.6" fill="#fff" stroke="#a3205f" stroke-width="1.1"/>
<rect x="538.4" y="329.0" width="4.6" height="4.6" fill="#fff" stroke="#a3205f" stroke-width="1.1"/>
<rect x="539.2" y="344.6" width="4.6" height="4.6" fill="#fff" stroke="#a3205f" stroke-width="1.1"/>
<rect x="540.1" y="355.0" width="4.6" height="4.6" fill="#fff" stroke="#a3205f" stroke-width="1.1"/>
</g>
<rect x="52.3" y="235.5" width="55.2" height="29.8" fill="#fff" stroke="#222" stroke-width="1.1"/>
<text x="79.9" y="246.7" text-anchor="middle" font-size="9.2">varied</text>
<text x="79.6" y="259.3" text-anchor="middle" font-size="9.2">electrolysis</text>
<rect x="117.2" y="235.5" width="418" height="29.8" fill="#fff" stroke="#222" stroke-width="1.1"/>
<text x="326.5" y="248.4" text-anchor="middle" font-size="9.1">-0.3 A cm<tspan font-size="6" dy="-3.5">-2</tspan><tspan dy="3.5"> electrolysis</tspan></text>
<text x="214.2" y="259.5" text-anchor="middle" font-size="9.05">+26 mV /1000h (2,1%/1000hr)</text>
<text x="441.6" y="259.5" text-anchor="middle" font-size="9.05">+46 mV /1000h (3,9%/1000hr)</text>
<line x1="147.7" y1="255.6" x2="132.3" y2="255.6" stroke="#000" stroke-width="1.7"/>
<path d="M123.8,255.6L132.3,251.6L132.3,259.6Z" fill="#000"/>
<line x1="278.7" y1="256.6" x2="337.0" y2="256.6" stroke="#000" stroke-width="1.7"/>
<path d="M345.5,256.6L337.0,252.60000000000002L337.0,260.6Z" fill="#000"/>
<line x1="380.6" y1="256.6" x2="361.7" y2="256.6" stroke="#000" stroke-width="1.7"/>
<path d="M353.2,256.6L361.7,252.60000000000002L361.7,260.6Z" fill="#000"/>
<line x1="510.9" y1="257" x2="522.3" y2="257" stroke="#000" stroke-width="1.7"/>
<path d="M530.8,257L522.3,253L522.3,261Z" fill="#000"/>
<rect x="240" y="319.6" width="89.3" height="55.6" fill="#fff" stroke="#222" stroke-width="1.1"/>
<line x1="247" y1="329.5" x2="272.5" y2="329.5" stroke="#4a4ab4" stroke-width="1.1"/>
<path d="M259.7,327L262.2,331.2L257.2,331.2Z" fill="#fff" stroke="#3a3aac" stroke-width="1"/>
<line x1="247" y1="347.5" x2="272.5" y2="347.5" stroke="#5a80ff" stroke-width="1.3"/>
<path d="M257.8,345.6L261.6,349.4M261.6,345.6L257.8,349.4" stroke="#3560f6" stroke-width="1.2"/>
<line x1="247" y1="365.6" x2="272.5" y2="365.6" stroke="#b0507e" stroke-width="1.1"/>
<rect x="257.1" y="363" width="5.2" height="5.2" fill="#fff" stroke="#b0507e" stroke-width="1"/>
<text x="279.2" y="334.8" font-size="10.8">U/V</text>
<text x="279.2" y="352.8" font-size="10.8">pH2O/bar</text>
<text x="279.2" y="370.8" font-size="10.8">T/°C</text>
<text x="40.6" y="389.2" text-anchor="end" font-size="11">0</text>
<text x="40.6" y="345.8" text-anchor="end" font-size="11">0,2</text>
<text x="40.6" y="302.4" text-anchor="end" font-size="11">0,4</text>
<text x="40.6" y="259.1" text-anchor="end" font-size="11">0,6</text>
<text x="40.6" y="215.7" text-anchor="end" font-size="11">0,8</text>
<text x="40.6" y="172.3" text-anchor="end" font-size="11">1</text>
<text x="40.6" y="128.9" text-anchor="end" font-size="11">1,2</text>
<text x="40.6" y="85.5" text-anchor="end" font-size="11">1,4</text>
<text x="40.6" y="42.2" text-anchor="end" font-size="11">1,6</text>
<text x="555.5" y="389.0" font-size="11">0</text>
<text x="555.5" y="345.6" font-size="11">100</text>
<text x="555.5" y="302.2" font-size="11">200</text>
<text x="555.5" y="258.9" font-size="11">300</text>
<text x="555.5" y="215.5" font-size="11">400</text>
<text x="555.5" y="172.1" font-size="11">500</text>
<text x="555.5" y="128.7" font-size="11">600</text>
<text x="555.5" y="85.3" font-size="11">700</text>
<text x="555.5" y="42.0" font-size="11">800</text>
<text x="48.0" y="399.2" text-anchor="middle" font-size="11">0</text>
<text x="106.1" y="399.2" text-anchor="middle" font-size="11">288</text>
<text x="164.2" y="399.2" text-anchor="middle" font-size="11">576</text>
<text x="222.2" y="399.2" text-anchor="middle" font-size="11">864</text>
<text x="280.4" y="399.2" text-anchor="middle" font-size="11">1152</text>
<text x="338.4" y="399.2" text-anchor="middle" font-size="11">1440</text>
<text x="396.6" y="399.2" text-anchor="middle" font-size="11">1728</text>
<text x="454.6" y="399.2" text-anchor="middle" font-size="11">2016</text>
<text x="512.8" y="399.2" text-anchor="middle" font-size="11">2304</text>
<text x="285.2" y="418.8" text-anchor="middle" font-size="13.1" font-weight="bold" stroke-width="0">time/hr</text>
<text transform="translate(12.8,211.3) rotate(-90)" text-anchor="middle" font-size="13.3" font-weight="bold" stroke-width="0">voltage/V, pH2O/atm</text>
<text transform="translate(594.4,213.7) rotate(-90)" text-anchor="middle" font-size="13.3" font-weight="bold" stroke-width="0">temperature/°C</text>
<text x="464.6" y="56.3" font-size="11" font-style="italic">temperature</text>
<text x="137.2" y="176.5" font-size="11" font-style="italic">voltage</text>
<text x="132.3" y="315.1" font-size="11" font-style="italic">H<tspan font-size="7" dy="2.2"> 2 </tspan><tspan dy="-2.2">O-ratio</tspan></text>
</svg>
</body></html>
